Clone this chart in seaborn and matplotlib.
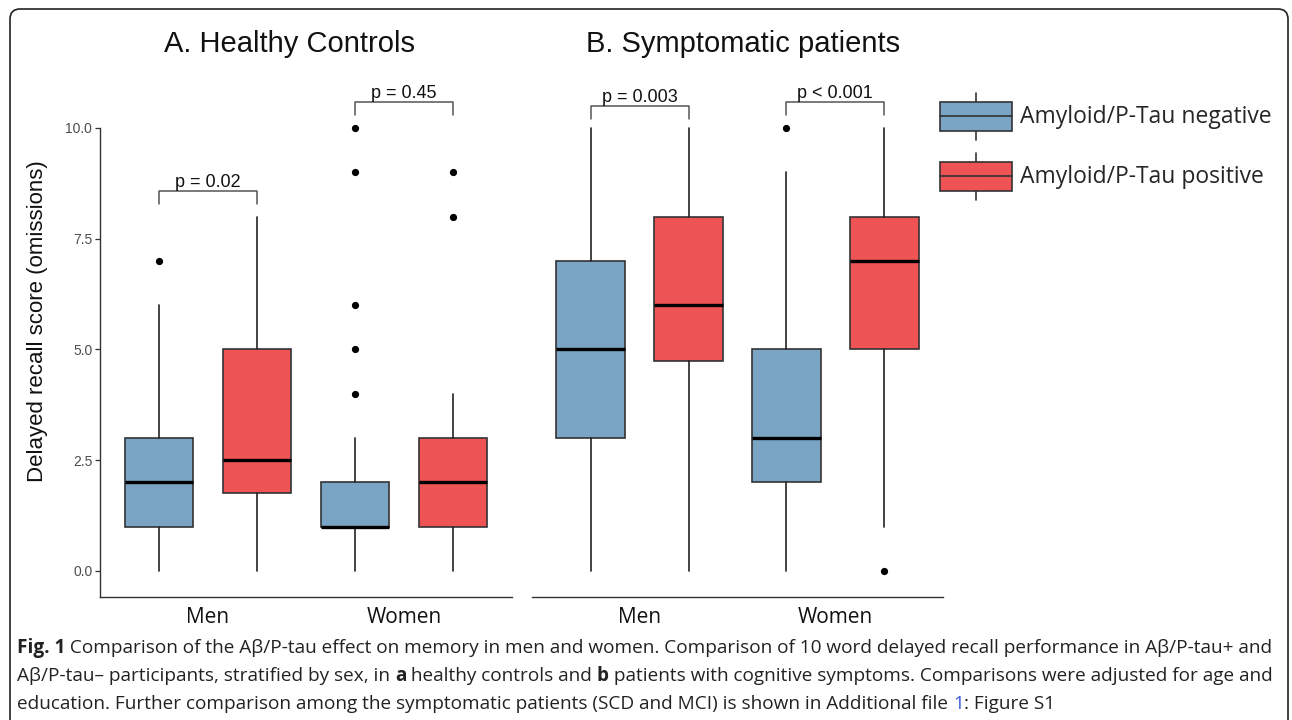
import matplotlib
matplotlib.use("Agg")
import matplotlib.pyplot as plt
import matplotlib.transforms as mtrans
from matplotlib.patches import Rectangle, FancyBboxPatch
from matplotlib.lines import Line2D
from matplotlib.legend_handler import HandlerBase
import seaborn as sns

# ---------------- data ----------------
groups = ["Men", "Women"]
status = ["Amyloid/P-Tau negative", "Amyloid/P-Tau positive"]
colors = ["#7aa4c4", "#ee5455"]

# order: Men-neg, Men-pos, Women-neg, Women-pos
hc_whislo = [0, 0, 0, 0]
hc_q1 = [1, 1.75, 1, 1]
hc_med = [2, 2.5, 1, 2]
hc_q3 = [3, 5, 2, 3]
hc_whishi = [6, 8, 3, 4]
hc_fliers = [[7], [], [4, 5, 6, 9, 10], [8, 9]]
hc_pvals = ["p = 0.02", "p = 0.45"]
hc_bracket_y = [8.58, 10.59]

sp_whislo = [0, 0, 0, 1]
sp_q1 = [3, 4.75, 2, 5]
sp_med = [5, 6, 3, 7]
sp_q3 = [7, 8, 5, 8]
sp_whishi = [10, 10, 9, 10]
sp_fliers = [[], [], [10], [0]]
sp_pvals = ["p = 0.003", "p < 0.001"]
sp_bracket_y = [10.5, 10.59]

yticks = [0, 2.5, 5, 7.5, 10]
ytick_labels = ["0.0", "2.5", "5.0", "7.5", "10.0"]

titles = ["A. Healthy Controls", "B. Symptomatic patients"]
ylabel = "Delayed recall score (omissions)"

caption_lines = [
    [("Fig. 1", "bold", None),
     (" Comparison of the A\u03b2/P-tau effect on memory in men and women. Comparison of 10 word delayed recall performance in A\u03b2/P-tau+ and", "normal", None)],
    [("A\u03b2/P-tau\u2013 participants, stratified by sex, in ", "normal", None), ("a", "bold", None),
     (" healthy controls and ", "normal", None), ("b", "bold", None),
     (" patients with cognitive symptoms. Comparisons were adjusted for age and", "normal", None)],
    [("education. Further comparison among the symptomatic patients (SCD and MCI) is shown in Additional file ", "normal", None),
     ("1", "normal", "#3b5bdb"), (": Figure S1", "normal", None)],
]

# ---------------- style ----------------
sns.set_theme(style="ticks")
plt.rcParams["font.family"] = ["Liberation Sans", "DejaVu Sans"]
plt.rcParams["axes.facecolor"] = "white"

W, H = 1292, 720
fig = plt.figure(figsize=(W / 100, H / 100), dpi=100)
fig.patch.set_facecolor("white")


def px_axes(left, top, right, bottom):
    return fig.add_axes([left / W, 1 - bottom / H, (right - left) / W, (bottom - top) / H])


YLIM = (-0.587, 11.0)
axA = px_axes(100, 571 - 11.0 * 44.3, 512, 597)
axB = px_axes(532, 571 - 11.0 * 44.3, 943, 597)

EDGE = "#333333"


def draw_panel(ax, whislo, q1, med, q3, whishi, fliers, pvals, bracket_y, show_y):
    stats, positions, fcs = [], [], []
    for i in range(len(med)):
        g, s = divmod(i, 2)
        stats.append(dict(med=med[i], q1=q1[i], q3=q3[i], whislo=whislo[i],
                          whishi=whishi[i], fliers=fliers[i]))
        positions.append(g + 1 + (s - 0.5) * 0.5)
        fcs.append(colors[s])
    bp = ax.bxp(stats, positions=positions, widths=0.352, patch_artist=True,
                showcaps=False,
                boxprops=dict(edgecolor=EDGE, linewidth=1.2),
                medianprops=dict(color="black", linewidth=2.4, solid_capstyle="butt"),
                whiskerprops=dict(color="#222222", linewidth=1.2),
                flierprops=dict(marker="o", markerfacecolor="black",
                                markeredgecolor="black", markersize=4.2, linestyle="none"))
    for patch, c in zip(bp["boxes"], fcs):
        patch.set_facecolor(c)

    for g in range(len(groups)):
        x1, x2 = g + 1 - 0.25, g + 1 + 0.25
        y = bracket_y[g]
        ax.plot([x1, x1, x2, x2], [y - 0.3, y, y, y - 0.3], color="#555555", lw=1.1,
                clip_on=False)
        ax.annotate(pvals[g], xy=((x1 + x2) / 2, y), xytext=(0, 3),
                    textcoords="offset points", ha="center", va="baseline",
                    fontsize=13, color="#111111")

    ax.set_xlim(0.449, 2.551)
    ax.set_ylim(*YLIM)
    ax.set_xticks([1, 2])
    ax.set_xticklabels(groups, fontfamily="Open Sans", fontsize=15, color="#111111")
    ax.tick_params(axis="x", length=0, pad=7)
    sns.despine(ax=ax)
    for sp in ["left", "bottom"]:
        ax.spines[sp].set_color(EDGE)
        ax.spines[sp].set_linewidth(1.0)
    if show_y:
        ax.set_yticks(yticks)
        ax.set_yticklabels(ytick_labels)
        ax.tick_params(axis="y", length=3.5, width=0.9, color=EDGE, labelsize=10,
                       labelcolor="#4d4d4d", pad=2)
        ax.spines["left"].set_bounds(YLIM[0], 10)
    else:
        ax.set_yticks([])
        ax.spines["left"].set_visible(False)
    ax.grid(False)


draw_panel(axA, hc_whislo, hc_q1, hc_med, hc_q3, hc_whishi, hc_fliers, hc_pvals, hc_bracket_y, True)
draw_panel(axB, sp_whislo, sp_q1, sp_med, sp_q3, sp_whishi, sp_fliers, sp_pvals, sp_bracket_y, False)

# titles and y label
fig.text(289 / W, 1 - 51.7 / H, titles[0], ha="center", va="baseline", fontsize=21, color="#111111")
fig.text(743 / W, 1 - 51.7 / H, titles[1], ha="center", va="baseline", fontsize=21, color="#111111")
fig.text(38 / W, 1 - 321.5 / H, ylabel, rotation=90, ha="center", va="center", fontsize=16,
         color="#111111")


# legend with boxplot keys
class BoxKey(HandlerBase):
    def create_artists(self, legend, orig_handle, xdescent, ydescent, width, height,
                       fontsize, trans):
        x0, y0 = -xdescent, -ydescent
        bh = height * 29 / 47
        by = y0 + (height - bh) / 2
        cx = x0 + width / 2
        wl = Line2D([cx, cx], [y0, y0 + height], color=EDGE, lw=1.2, transform=trans)
        r = Rectangle((x0, by), width, bh, facecolor=orig_handle.get_facecolor(),
                      edgecolor=EDGE, lw=1.2, transform=trans)
        m = Line2D([x0, x0 + width], [by + bh / 2] * 2, color=EDGE, lw=1.2, transform=trans)
        return [wl, r, m]


leg_fs = 16.5
fs_px = leg_fs * 100 / 72
key_h = 47 / fs_px
handles = [Rectangle((0, 0), 1, 1, facecolor=c) for c in colors]
fig.legend(handles, status, handler_map={Rectangle: BoxKey()}, loc="upper left",
           bbox_to_anchor=(940 / W, 1 - 92.7 / H), frameon=False, borderpad=0,
           borderaxespad=0, handlelength=72 / fs_px, handleheight=(key_h - 0.245) / 0.65,
           handletextpad=8 / fs_px, labelspacing=13 / fs_px,
           prop={"family": "Open Sans", "size": leg_fs})

# caption
renderer = fig.canvas.get_renderer()
CAP_COLOR = "#222222"


def seg_width(s, size, weight):
    t = fig.text(0, 0, "|" + s + "|", fontfamily="Open Sans", fontsize=size, fontweight=weight)
    w1 = t.get_window_extent(renderer).width
    t.set_text("||")
    w2 = t.get_window_extent(renderer).width
    t.remove()
    return w1 - w2


base_size = 12.0
w_line1 = sum(seg_width(s, base_size, wt) for s, wt, _ in caption_lines[0])
cap_size = base_size * 1255.0 / w_line1
baselines = [653, 681, 709]
for line, yb in zip(caption_lines, baselines):
    x = 17.0
    for s, wt, col in line:
        fig.text(x / W, 1 - yb / H, s, fontfamily="Open Sans", fontsize=cap_size,
                 fontweight=wt, color=col or CAP_COLOR, ha="left", va="baseline")
        x += seg_width(s, cap_size, wt)

# rounded frame
frame = FancyBboxPatch((10, -30), 1278, 720 - 9 + 30,
                       boxstyle="round,pad=0,rounding_size=10",
                       transform=mtrans.IdentityTransform(), facecolor="none",
                       edgecolor="#222222", linewidth=1.2)
fig.patches.append(frame)

fig.savefig("out.png", dpi=100)
